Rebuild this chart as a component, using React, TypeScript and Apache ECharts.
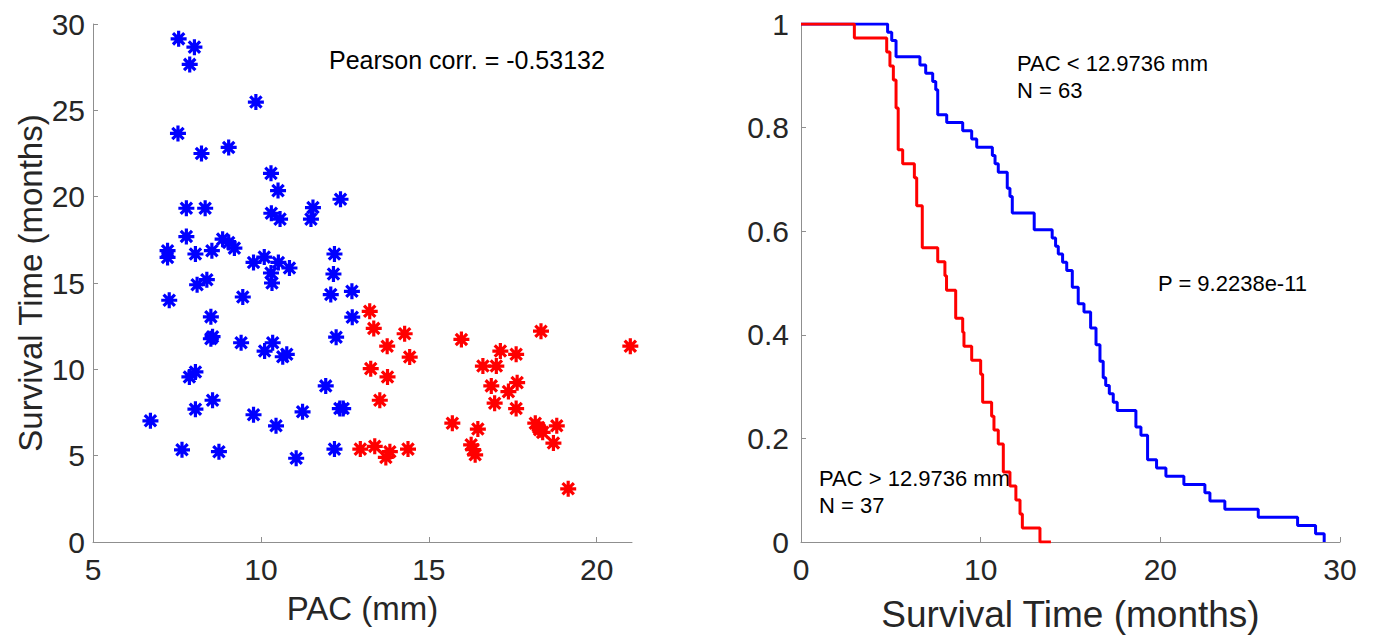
import React, { useEffect, useRef } from "react";
import * as echarts from "echarts";

// Scatter: PAC (mm) vs survival time (months)
const lowPAC = [7.55, 8.02, 7.88, 9.85, 7.53, 8.23, 9.04, 10.30, 10.51, 12.37, 7.78, 8.34, 10.31, 10.57, 11.55, 11.49, 7.78, 7.22, 7.22, 8.05, 8.54, 8.86, 9.04, 9.21, 9.78, 10.10, 10.52, 10.85, 12.19, 12.16, 10.30, 10.33, 8.10, 8.39, 12.71, 12.08, 7.27, 9.46, 8.51, 12.72, 8.51, 8.56, 9.41, 12.24, 10.35, 10.11, 10.77, 10.65, 7.87, 8.05, 11.93, 8.56, 8.05, 12.35, 12.45, 11.24, 9.78, 6.71, 10.45, 7.65, 8.75, 11.05, 12.19];
const lowSurv = [29.14, 28.66, 27.66, 25.48, 23.66, 22.5, 22.85, 21.35, 20.35, 19.85, 19.33, 19.33, 19.04, 18.70, 19.37, 18.70, 17.69, 16.87, 16.48, 16.68, 16.87, 17.54, 17.35, 17.02, 16.19, 16.50, 16.19, 15.87, 16.68, 15.52, 15.58, 15.00, 14.9, 15.19, 14.52, 14.33, 14.0, 14.19, 13.04, 13.02, 11.77, 11.89, 11.54, 11.86, 11.54, 11.06, 10.87, 10.73, 9.56, 9.85, 9.04, 8.21, 7.69, 7.73, 7.73, 7.54, 7.37, 7.02, 6.73, 5.34, 5.23, 4.85, 5.38];
const highPAC = [13.24, 13.36, 14.28, 13.76, 14.43, 13.27, 13.77, 13.54, 12.96, 13.39, 13.72, 13.84, 14.38, 15.97, 18.34, 21.0, 17.13, 17.60, 16.61, 17.01, 16.86, 17.63, 17.37, 16.96, 17.60, 15.70, 16.46, 18.17, 18.27, 18.39, 18.81, 18.71, 16.26, 16.38, 19.15, 18.30, 16.32];
const highSurv = [13.36, 12.37, 12.06, 11.34, 10.71, 10.04, 9.56, 8.21, 5.38, 5.54, 4.90, 5.23, 5.38, 11.73, 12.21, 11.34, 11.06, 10.87, 10.19, 10.19, 9.04, 9.23, 8.71, 8.04, 7.73, 6.88, 6.54, 6.88, 6.63, 6.35, 6.73, 5.73, 5.63, 5.05, 3.08, 6.50, 5.35];

// Kaplan-Meier curves
const kmLowTime = [0, 4.82, 5.05, 5.29, 6.62, 6.94, 7.33, 7.50, 7.61, 8.11, 9.00, 9.50, 9.78, 10.65, 10.80, 10.98, 11.48, 11.63, 11.76, 12.98, 13.98, 14.17, 14.32, 14.56, 14.79, 15.10, 15.43, 15.75, 16.12, 16.42, 16.64, 16.82, 16.96, 17.16, 17.38, 17.60, 18.64, 18.92, 19.29, 19.79, 20.31, 21.31, 22.48, 22.76, 23.59, 25.45, 27.64, 28.64, 29.12];
const kmLowSurv = [1, 0.984, 0.968, 0.937, 0.921, 0.905, 0.889, 0.873, 0.825, 0.810, 0.794, 0.778, 0.762, 0.746, 0.730, 0.714, 0.683, 0.667, 0.635, 0.603, 0.587, 0.571, 0.556, 0.540, 0.524, 0.492, 0.460, 0.444, 0.413, 0.381, 0.349, 0.317, 0.302, 0.286, 0.270, 0.254, 0.222, 0.206, 0.159, 0.143, 0.127, 0.111, 0.095, 0.079, 0.063, 0.048, 0.032, 0.016, 0];
const kmHighTime = [0, 2.97, 4.77, 4.95, 5.14, 5.29, 5.41, 5.66, 6.31, 6.44, 6.75, 7.61, 8.01, 8.10, 8.61, 9.00, 9.07, 9.50, 10.00, 10.11, 10.61, 10.74, 10.98, 11.26, 11.63, 11.96, 12.19, 12.32, 13.30, 13.91];
const kmHighSurv = [1, 0.973, 0.946, 0.919, 0.892, 0.838, 0.757, 0.730, 0.703, 0.649, 0.568, 0.541, 0.514, 0.486, 0.432, 0.405, 0.378, 0.351, 0.324, 0.270, 0.243, 0.216, 0.189, 0.135, 0.108, 0.081, 0.054, 0.027, 0, 0];

const leftXTicks = [5, 10, 15, 20];

const FONT = "'Liberation Sans', Arial, Helvetica, sans-serif";
const ASTERISK = "path://M10,0L10,20M0,10L20,10M2.93,2.93L17.07,17.07M2.93,17.07L17.07,2.93";

export default function App() {
  const ref = useRef<HTMLDivElement>(null);
  useEffect(() => {
    document.body.style.margin = "0";
    const chart = echarts.init(ref.current!, undefined, { renderer: "svg" });
    const axisLine = { show: true, lineStyle: { color: "#8f8f8f", width: 1 } };
    const axisTick = { show: true, inside: true, length: 5, lineStyle: { color: "#8f8f8f" } };
    const label = { color: "#262626", fontSize: 30, fontFamily: FONT };
    const fmt = (v: number) => String(parseFloat(v.toFixed(2)));
    chart.setOption({
      animation: false,
      grid: [
        { left: 93, top: 24, width: 539, height: 518 },
        { left: 801, top: 24, width: 539, height: 518 },
      ],
      xAxis: [
        {
          type: "value", gridIndex: 0, min: 5, max: 21.05, interval: 5,
          axisLine, axisTick: { ...axisTick, customValues: leftXTicks },
          splitLine: { show: false },
          axisLabel: { ...label, margin: 12, customValues: leftXTicks, formatter: fmt },
          name: "PAC (mm)", nameLocation: "middle", nameGap: 50,
          nameTextStyle: { color: "#262626", fontSize: 33, fontFamily: FONT },
        },
        {
          type: "value", gridIndex: 1, min: 0, max: 30, interval: 10,
          axisLine, axisTick, splitLine: { show: false },
          axisLabel: { ...label, margin: 12, formatter: fmt },
          name: "Survival Time (months)", nameLocation: "middle", nameGap: 54,
          nameTextStyle: { color: "#262626", fontSize: 37, fontFamily: FONT },
        },
      ],
      yAxis: [
        {
          type: "value", gridIndex: 0, min: 0, max: 30, interval: 5,
          axisLine, axisTick, splitLine: { show: false },
          axisLabel: { ...label, margin: 8, formatter: fmt },
          name: "Survival Time (months)", nameLocation: "middle", nameGap: 46,
          nameTextStyle: { color: "#262626", fontSize: 33, fontFamily: FONT },
        },
        {
          type: "value", gridIndex: 1, min: 0, max: 1, interval: 0.2,
          axisLine, axisTick, splitLine: { show: false },
          axisLabel: { ...label, margin: 12, formatter: fmt },
        },
      ],
      series: [
        {
          type: "scatter", xAxisIndex: 0, yAxisIndex: 0, symbol: ASTERISK, symbolSize: 16,
          itemStyle: { color: "#0000ff", borderColor: "#0000ff", borderWidth: 3.2, opacity: 1 },
          data: lowPAC.map((x, i) => [x, lowSurv[i]]),
        },
        {
          type: "scatter", xAxisIndex: 0, yAxisIndex: 0, symbol: ASTERISK, symbolSize: 16,
          itemStyle: { color: "#ff0000", borderColor: "#ff0000", borderWidth: 3.2, opacity: 1 },
          data: highPAC.map((x, i) => [x, highSurv[i]]),
        },
        {
          type: "line", xAxisIndex: 1, yAxisIndex: 1, step: "end", showSymbol: false,
          lineStyle: { color: "#0000ff", width: 3 },
          data: kmLowTime.map((t, i) => [t, kmLowSurv[i]]),
        },
        {
          type: "line", xAxisIndex: 1, yAxisIndex: 1, step: "end", showSymbol: false,
          lineStyle: { color: "#ff0000", width: 3 },
          data: kmHighTime.map((t, i) => [t, kmHighSurv[i]]),
        },
      ],
      graphic: [
        { type: "text", left: 329, top: 47, style: { text: "Pearson corr. = -0.53132", fill: "#000", font: `25px ${FONT}` } },
        { type: "text", left: 1017, top: 50, style: { text: "PAC < 12.9736 mm\nN = 63", fill: "#000", font: `22px ${FONT}`, lineHeight: 27 } },
        { type: "text", left: 1158, top: 272, style: { text: "P = 9.2238e-11", fill: "#000", font: `22px ${FONT}` } },
        { type: "text", left: 819, top: 465, style: { text: "PAC > 12.9736 mm\nN = 37", fill: "#000", font: `22px ${FONT}`, lineHeight: 27 } },
      ],
    });
    return () => chart.dispose();
  }, []);
  return <div ref={ref} style={{ width: 1375, height: 641 }} />;
}
